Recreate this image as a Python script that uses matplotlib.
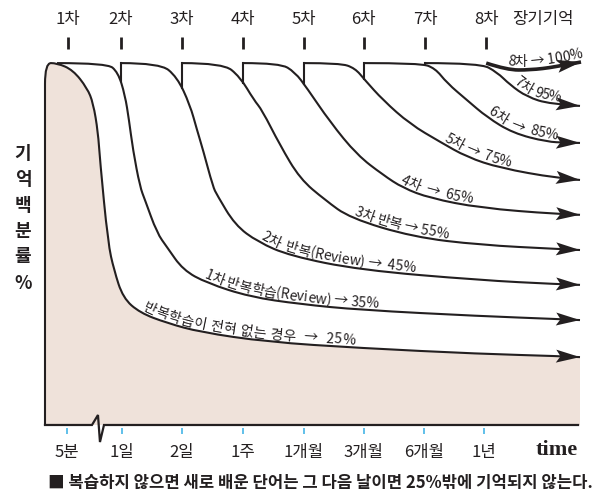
import numpy as np
import matplotlib
matplotlib.use("Agg")
import matplotlib.pyplot as plt
from matplotlib.path import Path
from matplotlib.patches import PathPatch
from matplotlib.font_manager import FontProperties

plt.rcParams['font.family'] = ['Noto Sans CJK KR', 'DejaVu Sans']

# -----------------------------------------------------------------------------
# data (x: time slot, 1일 = 1 ... 1년 = 7 / y: height in % of the top plateau)
time_labels = ['5분', '1일', '2일', '1주', '1개월', '3개월', '6개월', '1년']
time_pos = [0.08, 1.0, 2.0, 3.02, 4.03, 5.03, 6.03, 7.03]
review_labels = ['1차', '2차', '3차', '4차', '5차', '6차', '7차', '8차', '장기기억']
review_pos = [0.1, 0.98, 2.0, 3.02, 4.03, 5.03, 6.05, 7.07, 8.02]
ylabel_chars = ['기', '억', '백', '분', '률', '%']
ylabel_pos = [74.9, 67.5, 60.4, 53.4, 46.3, 39.1]

# no review (outline of the shaded area)
none_x = [-0.283, -0.283, -0.283, -0.083, 0.183, 0.42, 0.52, 0.6, 0.633, 0.767, 0.867,
          1.017, 1.30, 1.75, 2.30, 3.417, 4.967, 6.967, 8.25, 8.633]
none_y = [0, 88.2, 99.7, 99.7, 97.8, 92.8, 88.7, 80.7, 73.0, 50.1, 42.7,
          35.0, 30.9, 28.1, 25.6, 22.9, 21.2, 19.6, 19.0, 18.7]

rev1_x = [-0.083, 0.75, 0.933, 1.05, 1.117, 1.183, 1.30, 1.383, 1.583, 1.75, 2.017, 2.417,
          3.133, 3.967, 4.967, 6.967, 8.25, 8.633]
rev1_y = [99.7, 99.7, 97.2, 90.9, 84.0, 75.8, 65.6, 62.0, 52.9, 49.0, 42.7, 39.1,
          35.3, 33.3, 31.7, 30.0, 29.2, 28.9]

rev2_x = [0.98, 1.633, 1.917, 2.133, 2.25, 2.35, 2.517, 2.583, 2.883, 3.267, 3.8, 4.967,
          6.967, 8.25, 8.633]
rev2_y = [99.7, 99.7, 95.9, 88.2, 81.3, 75.8, 65.6, 63.4, 55.1, 50.4, 46.6, 42.7,
          39.9, 38.8, 38.6]

rev3_x = [2.0, 2.683, 2.967, 3.2, 3.333, 3.633, 3.967, 4.383, 4.8, 5.85, 6.967, 8.25, 8.633]
rev3_y = [99.7, 99.7, 95.9, 89.5, 86.8, 77.1, 67.8, 62.0, 57.0, 51.8, 49.6, 48.5, 48.2]

rev4_x = [3.02, 3.633, 3.883, 4.083, 4.467, 4.917, 5.35, 5.683, 6.133, 6.967, 8.25, 8.633]
rev4_y = [99.7, 99.7, 97.2, 92.8, 83.5, 74.4, 68.9, 65.3, 62.5, 59.8, 58.1, 57.9]

rev5_x = [4.03, 4.633, 4.883, 5.05, 5.35, 5.8, 6.3, 6.75, 7.3, 8.25, 8.633]
rev5_y = [99.7, 99.7, 98.3, 95.0, 89.5, 82.9, 78.0, 73.8, 70.8, 68.0, 67.5]

rev6_x = [5.03, 5.967, 6.217, 6.417, 6.75, 7.083, 7.517, 8.083, 8.4, 8.633]
rev6_y = [99.7, 99.7, 98.3, 94.2, 89.5, 84.8, 80.4, 78.0, 77.8, 77.7]

rev7_x = [6.05, 6.967, 7.25, 7.467, 7.75, 8.133, 8.633]
rev7_y = [99.7, 99.7, 97.2, 93.7, 90.4, 88.4, 87.9]

rev8_x = [7.07, 7.417, 7.8, 8.217, 8.65]
rev8_y = [99.7, 97.8, 97.8, 98.6, 100.0]

curve_labels = ['반복학습이 전혀 없는 경우  →  25%', '1차 반복학습(Review) → 35%',
                '2차  반복(Review) →  45%', '3차 반복 → 55%', '4차  →  65%',
                '5차 →  75%', '6차  →  85%', '7차 95%', '8차 → 100%']
label_start = [1.33, 2.35, 3.3, 4.85, 5.633, 6.35, 7.083, 7.517, 7.417]

# axis with the break between 5분 and 1일
axis_x = [-0.283, 0.5, 0.6, 0.633, 0.7, 8.6]
axis_y = [0, 0, 2.75, -4.7, 0, 0]

caption = '■ 복습하지 않으면 새로 배운 단어는 그 다음 날이면 25%밖에 기억되지 않는다.'

# -----------------------------------------------------------------------------
INK = '#231f20'
fig = plt.figure(figsize=(5.98, 4.99), dpi=100)
ax = fig.add_axes([0, 0, 1, 1])
ax.set_xlim(-1.033, 8.933)
ax.set_ylim(-20.39, 117.08)
ax.axis('off')
renderer = fig.canvas.get_renderer()
to_data = ax.transData.inverted()


def smooth(xs, ys):
    # quadratic b-spline through the read control points
    pts = np.column_stack([xs, ys]).astype(float)
    n = len(pts)
    verts, codes = [pts[0]], [Path.MOVETO]
    for i in range(1, n - 1):
        end = pts[-1] if i == n - 2 else (pts[i] + pts[i + 1]) / 2
        verts += [pts[i], end]
        codes += [Path.CURVE3, Path.CURVE3]
    return Path(verts, codes)


def sample(path, n=30):
    segs = [seg(np.linspace(0, 1, n)) for seg, code in path.iter_bezier()
            if code != Path.MOVETO]
    return np.vstack([s[:-1] for s in segs] + [segs[-1][-1:]])


def arc_length(disp):
    return np.concatenate([[0], np.cumsum(np.hypot(*np.diff(disp, axis=0).T))])


def arrow_head(path, length=24, half=6.5, notch=4.5):
    # filled head with a concave back, in pixels
    disp = ax.transData.transform(sample(path))
    arc = arc_length(disp)
    s = arc[-1] - length
    tip = disp[-1]
    tail = np.array([np.interp(s, arc, disp[:, 0]), np.interp(s, arc, disp[:, 1])])
    u = (tip - tail) / np.hypot(*(tip - tail))
    n = np.array([-u[1], u[0]])
    head = np.array([tip, tip - u * length + n * half, tip - u * (length - notch),
                     tip - u * length - n * half])
    head = to_data.transform(head)
    ax.fill(head[:, 0], head[:, 1], color=INK, lw=0, zorder=5)


def text_on_curve(path, text, x0, size=10, gap=3.0, track=0.0):
    fp = FontProperties(family=['Noto Sans CJK KR', 'DejaVu Sans'], size=size)
    disp = ax.transData.transform(sample(path))
    tang = np.gradient(disp, axis=0)
    tang /= np.maximum(np.hypot(tang[:, 0], tang[:, 1]), 1e-9)[:, None]
    off = disp + np.column_stack([-tang[:, 1], tang[:, 0]]) * gap
    arc = arc_length(off)
    x0d = ax.transData.transform((x0, 0))[0]
    s0 = arc[np.argmax(off[:, 0] >= x0d)]

    def width(s):
        return renderer.get_text_width_height_descent(s, fp, ismath=False)[0]

    def point(s):
        return np.array([np.interp(s, arc, off[:, 0]), np.interp(s, arc, off[:, 1])])

    base = width('I')
    left = [0.0] + [width(text[:i] + 'I') - base + track * i for i in range(1, len(text) + 1)]
    for i, ch in enumerate(text):
        if ch == ' ':
            continue
        a, b = s0 + left[i], s0 + left[i + 1] - track
        d = point(b) - point(a)
        xd, yd = to_data.transform(point((a + b) / 2))
        ax.text(xd, yd, ch, fontproperties=fp, color=INK, ha='center', va='baseline',
                rotation=np.degrees(np.arctan2(d[1], d[0])), rotation_mode='anchor')


# shaded area under the no-review curve
none_path = smooth(none_x, none_y)
fill_verts = np.vstack([sample(none_path), [[none_x[-1], 0], [none_x[0], 0]]])
ax.fill(fill_verts[:, 0], fill_verts[:, 1], color='#efe2da', lw=0, zorder=1)

# axis
ax.plot(axis_x, axis_y, color=INK, lw=1.6, zorder=3, solid_joinstyle='miter')

# curves
curves = [(none_x, none_y), (rev1_x, rev1_y), (rev2_x, rev2_y), (rev3_x, rev3_y),
          (rev4_x, rev4_y), (rev5_x, rev5_y), (rev6_x, rev6_y), (rev7_x, rev7_y),
          (rev8_x, rev8_y)]
paths = []
for k, (xs, ys) in enumerate(curves):
    path = smooth(xs, ys)
    lw = 2.6 if k == 8 else 1.5
    ax.add_patch(PathPatch(path, fill=False, ec=INK, lw=lw, zorder=4, capstyle='butt'))
    if 2 <= k < 8:
        # vertical step from the previous curve back up to the top
        prev = sample(paths[-1])
        y_low = np.interp(xs[0], prev[:, 0], prev[:, 1])
        ax.plot([xs[0], xs[0]], [y_low, ys[0]], color=INK, lw=1.5, zorder=4)
    arrow_head(path)
    paths.append(path)

for k, (path, txt, x0) in enumerate(zip(paths, curve_labels, label_start)):
    text_on_curve(path, txt, x0, size=10, gap=3.8 if k == 8 else 2.8,
                  track=0.6 if k == 0 else 0.0)

# top review marks
for x, lab in zip(review_pos, review_labels):
    if lab != '장기기억':
        ax.plot([x, x], [103.6, 106.9], color=INK, lw=2, solid_capstyle='butt')
    ax.text(x, 111.8, lab, fontsize=12, color=INK, ha='center', va='center')

# bottom time ticks
for x, lab in zip(time_pos, time_labels):
    ax.plot([x, x], [-0.9, -2.5], color='#45b5e6', lw=1.2, solid_capstyle='butt')
    ax.text(x, -7.6, lab, fontsize=12, color=INK, ha='center', va='center')
ax.text(8.25, -7.0, 'time', fontsize=16, fontweight='bold', family='Liberation Serif',
        color=INK, ha='center', va='center')

# vertical y label
for ch, y in zip(ylabel_chars, ylabel_pos):
    ax.text(-0.65, y, ch, fontsize=13, fontweight='bold', color=INK,
            ha='center', va='center')

ax.text(-0.233, -16.0, caption, fontsize=12, fontweight='bold', color=INK,
        ha='left', va='center')

fig.savefig('out.png', dpi=100)
